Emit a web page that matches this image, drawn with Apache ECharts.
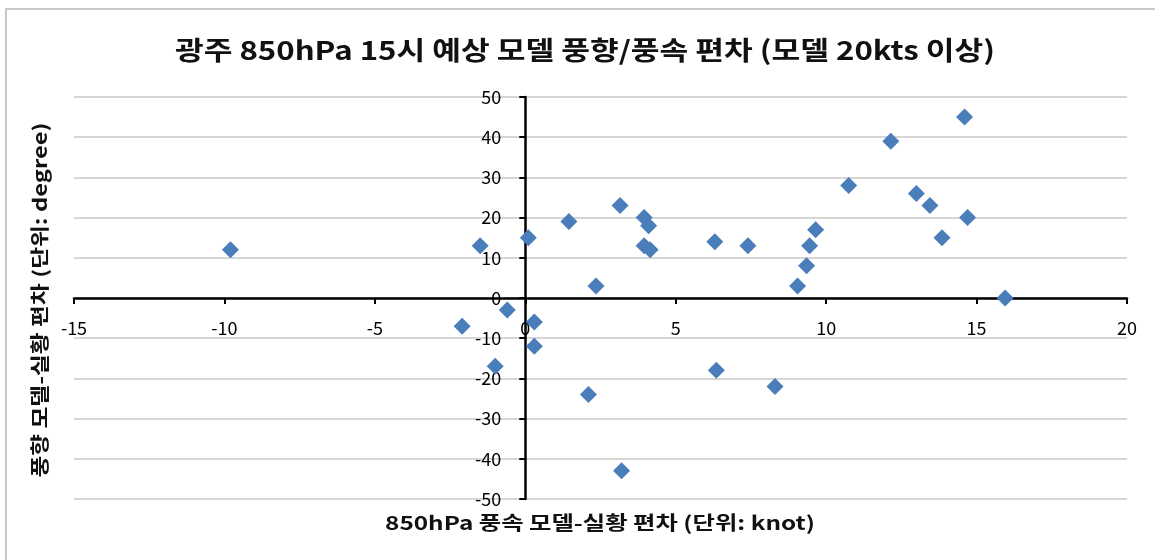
<!DOCTYPE html>
<html>
<head>
<meta charset="utf-8">
<script src="https://cdn.jsdelivr.net/npm/echarts@6/dist/echarts.min.js"></script>
<style>
html,body{margin:0;padding:0;background:#fff;}
#chart{width:1155px;height:560px;}
</style>
</head>
<body>
<div id="chart"></div>
<script>
const titleText = '광주 850hPa 15시 예상 모델 풍향/풍속 편차 (모델 20kts 이상)';
const xAxisTitle = '850hPa 풍속 모델-실황 편차 (단위: knot)';
const yAxisTitle = '풍향 모델-실황 편차 (단위: degree)';

const speedBias = [
  -9.8, -2.1, -1.5, -1.0, -0.6, 0.1, 0.3, 0.3, 1.45, 2.1, 2.35, 3.15, 3.2,
  3.95, 3.95, 4.1, 4.15, 6.3, 6.35, 7.4, 8.3, 9.05, 9.35, 9.45, 9.65,
  10.75, 12.15, 13.0, 13.45, 13.85, 14.6, 14.7, 15.95
];
const dirBias = [
  12, -7, 13, -17, -3, 15, -12, -6, 19, -24, 3, 23, -43,
  20, 13, 18, 12, 14, -18, 13, -22, 3, 8, 13, 17,
  28, 39, 26, 23, 15, 45, 20, 0
];

const FONT = "'Noto Sans CJK KR', 'Noto Sans', sans-serif";
const points = speedBias.map((x, i) => [x, dirBias[i]]);

const GRID = { left: 74, right: 28, top: 97, bottom: 61 };
const W = 1155, H = 560;

const chart = echarts.init(document.getElementById('chart'));
const option = {
  backgroundColor: '#ffffff',
  animation: false,
  graphic: [
    {
      type: 'rect',
      shape: { x: 6, y: 9, width: 1300, height: 700 },
      style: { fill: 'none', stroke: '#c8c8c8', lineWidth: 2 },
      silent: true
    },
    {
      type: 'text',
      x: 585, y: 50,
      scaleX: 1.2,
      style: { text: titleText, font: "bold 26px " + FONT, fill: '#111', align: 'center', verticalAlign: 'middle' }
    },
    {
      type: 'text',
      x: 600, y: 523,
      scaleX: 1.28,
      style: { text: xAxisTitle, font: "bold 19px " + FONT, fill: '#111', align: 'center', verticalAlign: 'middle' }
    },
    {
      type: 'text',
      x: 40, y: 300,
      rotation: Math.PI / 2,
      scaleX: 1.25,
      style: { text: yAxisTitle, font: "bold 19px " + FONT, fill: '#111', align: 'center', verticalAlign: 'middle' }
    }
  ],
  grid: Object.assign({ containLabel: false }, GRID),
  xAxis: {
    type: 'value',
    position: 'bottom',
    offset: 0,
    min: -15, max: 20, interval: 5,
    axisLine: { show: true, onZero: false, lineStyle: { color: '#000', width: 2.5 } },
    axisTick: { show: true, inside: false, length: 6, lineStyle: { color: '#000', width: 2 } },
    axisLabel: { margin: 21, fontFamily: FONT, fontSize: 18, color: '#000', showMinLabel: true, showMaxLabel: true },
    splitLine: { show: false }
  },
  yAxis: {
    type: 'value',
    position: 'left',
    offset: 0,
    min: -50, max: 50, interval: 10,
    axisLine: { show: true, onZero: false, lineStyle: { color: '#000', width: 2.5 } },
    axisTick: { show: true, inside: false, length: 6, lineStyle: { color: '#000', width: 2 } },
    axisLabel: { margin: 24, fontFamily: FONT, fontSize: 18, color: '#000' },
    splitLine: { show: true, lineStyle: { color: '#c8c8c8', width: 1.5 } }
  },
  series: [{
    type: 'scatter',
    data: points,
    symbol: 'diamond',
    symbolSize: [17, 17],
    itemStyle: { color: '#4A7EBB', opacity: 1 }
  }]
};
chart.setOption(option);

// Move axes so they cross at the origin (as in the reference), labels included
const origin = chart.convertToPixel({ gridIndex: 0 }, [0, 0]);
chart.setOption({
  xAxis: { offset: -((H - GRID.bottom) - origin[1]) },
  yAxis: { offset: -(origin[0] - GRID.left) }
});
</script>
</body>
</html>
